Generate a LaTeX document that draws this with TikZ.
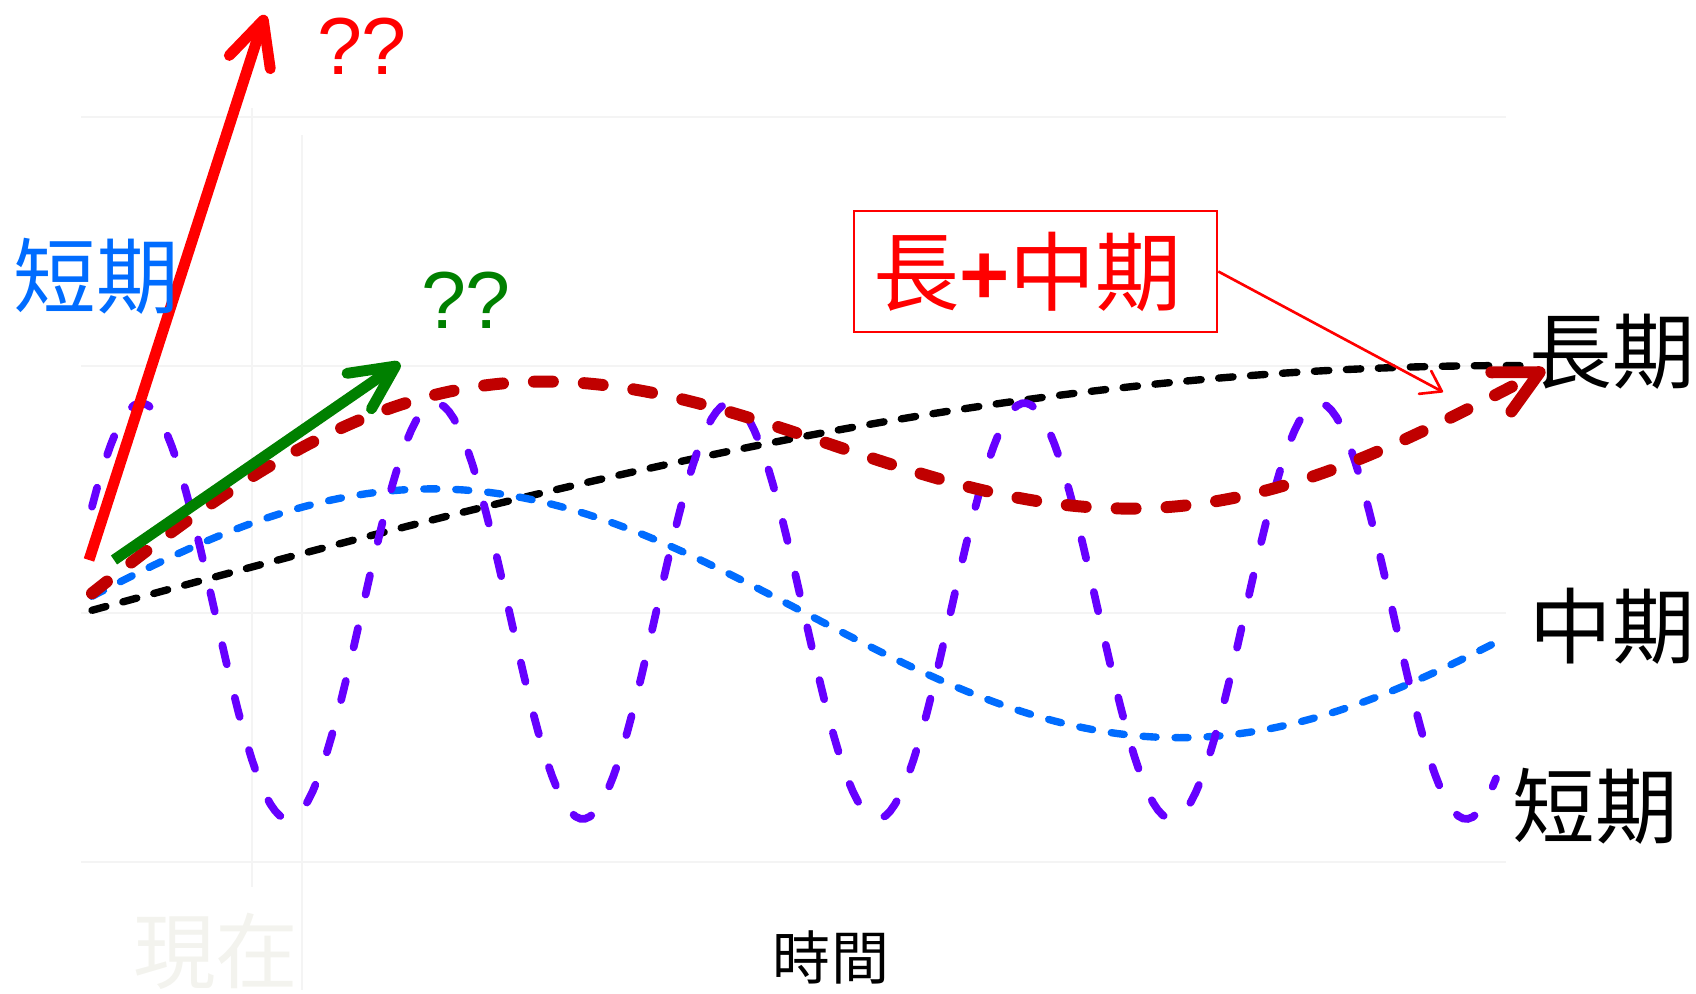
\documentclass[tikz,border=0pt]{standalone}
\usepackage{fontspec}
\setmainfont{Liberation Sans}
\newfontfamily\cjk{Noto Sans CJK TC}
\usetikzlibrary{arrows.meta}
\definecolor{cred}{RGB}{255,0,0}
\definecolor{dred}{RGB}{192,0,0}
\definecolor{cgreen}{RGB}{0,128,0}
\definecolor{cblue}{RGB}{0,108,255}
\definecolor{cpurple}{RGB}{102,0,255}
\definecolor{gridc}{RGB}{244,244,244}
\definecolor{faint}{RGB}{243,243,238}
\begin{document}
\begin{tikzpicture}[x=0.01cm,y=-0.01cm,
  gridline/.style={draw=gridc, line width=0.6pt},
  longline/.style={draw=black, line width=2.1pt, line cap=round, dash pattern=on 4.1pt off 5pt},
  midline/.style={draw=cblue, line width=2.1pt, line cap=round, dash pattern=on 3.7pt off 5.4pt},
  shortline/.style={draw=cpurple, line width=2.2pt, line cap=round, dash pattern=on 5.6pt off 9.8pt},
  sumline/.style={draw=dred, line width=3.4pt, line cap=round, dash pattern=on 5.4pt off 8.8pt,
     -{Straight Barb[round,length=4.3mm,width=4.4mm]}},
  bigarrow/.style={line width=3.1pt, -{Straight Barb[round,length=4.4mm,width=4.3mm]}},
  thinarrow/.style={draw=cred, line width=0.75pt, -{Straight Barb[round,length=1.9mm,width=2.6mm]}},
  cjklabel/.style={font=\cjk\fontsize{23.5pt}{26pt}\selectfont, inner sep=0pt},
  qlabel/.style={font=\fontsize{23pt}{26pt}\selectfont, inner sep=0pt}
]
\useasboundingbox (0,0) rectangle (1696,994);
% faint grid
\foreach \gy in {117,365.6,613.3,862}
  \draw[gridline] (81,\gy) -- (1506,\gy);
\draw[gridline] (252,108) -- (252,887);
\draw[gridline] (302,135) -- (302,990);
\node[cjklabel, text=faint] (now) at (216,951) {現在};
% long term
\draw[longline] plot[domain=92:1520, samples=160] (\x, {613.3 - 247.7*sin(((\x-81)/1427.7)*90)});
% medium term
\draw[midline] plot[domain=92:1498, samples=160] (\x, {613.3 - 124.4*cos(((\x-432.6)/746.3)*180)});
% short term
\draw[shortline] plot[domain=92:1496, samples=300] (\x, {611 - 208*cos(((\x-141)/294.5)*360)});
% long + medium
\draw[sumline] plot[domain=92:1545, samples=200] (\x, {613.3 - 247.7*sin(((\x-81)/1427.7)*90) - 124.4*cos(((\x-432.6)/746.3)*180)});
% arrows
\coordinate (gA) at (114,560);
\coordinate (gB) at (400,363);
\draw[bigarrow, draw=cgreen] (gA) -- (gB);
\coordinate (rA) at (89,560);
\coordinate (rB) at (265,15);
\draw[bigarrow, draw=cred] (rA) -- (rB);
% labels
\node[qlabel, text=cred] (q1) at (362,46) {??};
\node[qlabel, text=cgreen] (q2) at (466,300) {??};
\node[cjklabel, text=cblue] (shortL) at (96,276) {短期};
\node[draw=cred, line width=0.7pt, minimum width=3.63cm, minimum height=1.21cm, inner sep=0pt,
      text=cred, font=\cjk\fontsize{24.5pt}{27pt}\selectfont] (box) at (1035.5,271.5)
      {\hspace*{-0.16cm}長{\fontspec{Liberation Sans}\bfseries +}中期};
\coordinate (thinEnd) at (1443,392);
\draw[thinarrow] (box.east) -- (thinEnd);
\node[cjklabel] (lLong) at (1612,352) {長期};
\node[cjklabel] (lMid) at (1612,626) {中期};
\node[cjklabel] (lShort) at (1595,806) {短期};
\node[font=\cjk\fontsize{16.5pt}{18pt}\selectfont, inner sep=0pt] (time) at (831,957) {時間};
\end{tikzpicture}
\end{document}
